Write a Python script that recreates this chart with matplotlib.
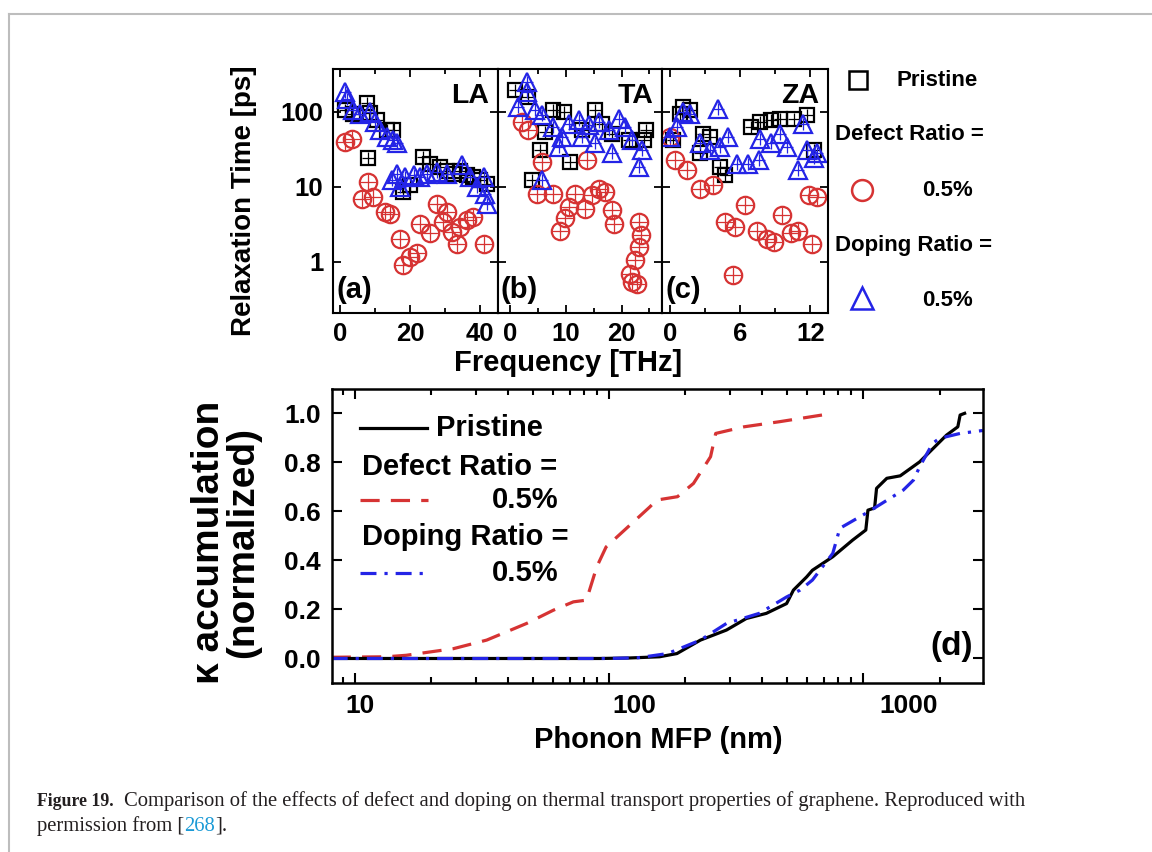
import matplotlib
matplotlib.use("Agg")
import matplotlib.pyplot as plt
from matplotlib.lines import Line2D
from matplotlib.transforms import ScaledTranslation
from matplotlib.ticker import FixedLocator, MultipleLocator, NullFormatter, LogLocator

plt.rcParams['font.family'] = ['Liberation Sans', 'DejaVu Sans']
plt.rcParams['font.weight'] = 'bold'

# --- panel (a) LA : frequency [THz], relaxation time [ps]
la_f_pr = [1.4, 3.8, 7.6, 8.6, 10.5, 13.3, 15.2, 8.1, 23.8, 25.7, 28.6, 30.5, 32.4, 34.3, 36.2, 38.0, 40.0, 41.9, 18.1, 20.0]
la_t_pr = [105, 95, 130, 98, 77, 57, 57, 24, 25, 20, 18.5, 16.5, 15, 16.5, 14.5, 13.5, 12.3, 11, 8.5, 10.5]
la_f_df = [1.4, 3.3, 8.1, 6.2, 9.5, 12.9, 14.3, 17.1, 18.1, 20.0, 21.9, 22.9, 25.7, 27.6, 29.5, 31.9, 33.3, 36.2, 38.0, 41.0, 34.3, 30.5]
la_t_df = [40, 44, 11.7, 6.9, 7.4, 4.6, 4.4, 2.0, 0.9, 1.17, 1.3, 3.2, 2.4, 6.0, 3.4, 2.5, 1.75, 3.6, 4.0, 1.75, 2.9, 4.6]
la_f_dp = [1.4, 1.9, 3.8, 5.7, 8.6, 10.0, 11.4, 13.3, 15.2, 16.2, 14.8, 16.2, 18.6, 21.0, 22.9, 24.8, 27.6, 30.5, 34.8, 37.1, 41.0, 39.0, 41.4, 41.9, 17.1]
la_t_dp = [185, 150, 105, 95, 100, 73, 57, 46, 42, 38, 12.3, 15, 13.6, 14.5, 13.6, 15, 16, 15, 19.5, 13.6, 13.5, 10, 8, 6, 10]

# --- panel (b) TA
ta_f_pr = [0.9, 3.3, 7.8, 9.6, 15.3, 6.3, 5.4, 10.8, 3.9, 16.5, 18.3, 21.3, 24.3, 24.0, 12.9]
ta_t_pr = [195, 158, 105, 100, 105, 54, 31, 21.5, 12.3, 70, 51, 42, 57, 42, 57]
ta_f_df = [2.1, 3.3, 5.7, 4.8, 7.8, 11.7, 10.5, 14.7, 17.1, 13.8, 9.9, 9.0, 13.5, 18.3, 18.6, 23.1, 23.4, 23.1, 22.5, 21.6, 21.9, 22.7, 15.9]
ta_t_df = [74, 57, 21.5, 8.1, 8.1, 8.1, 5.4, 7.7, 8.6, 23, 3.8, 2.6, 5.1, 4.9, 3.2, 3.4, 2.3, 1.6, 1.05, 0.69, 0.54, 0.51, 9.5]
ta_f_dp = [3.0, 3.0, 1.5, 4.5, 5.7, 7.8, 9.3, 10.5, 12.3, 14.1, 15.9, 17.7, 19.5, 20.7, 21.9, 23.1, 23.7, 18.3, 8.7, 5.7, 12.9, 15.3]
ta_t_dp = [250, 185, 116, 105, 90, 63, 46, 70, 77, 66, 73, 57, 81, 63, 42, 18.5, 31, 28, 34, 12.3, 46, 38]

# --- panel (c) ZA
za_f_pr = [1.14, 0.86, 1.7, 2.86, 3.4, 4.3, 4.7, 6.9, 7.7, 8.6, 9.4, 10.6, 11.7, 12.3, 0.3, 2.6]
za_t_pr = [117, 95, 105, 51, 46, 18.5, 14.5, 63, 74, 77, 81, 81, 90, 31, 42, 28]
za_f_df = [0.0, 0.43, 1.43, 2.57, 3.7, 6.4, 4.7, 5.6, 7.4, 8.3, 8.9, 9.6, 10.9, 10.3, 12.1, 11.9, 12.6, 5.4]
za_t_df = [46, 23, 17, 9.5, 10.5, 5.7, 3.4, 2.9, 2.6, 2.0, 1.85, 4.2, 2.6, 2.4, 1.75, 7.7, 7.4, 0.66]
za_f_dp = [0.0, 0.57, 1.14, 1.7, 4.14, 2.6, 3.4, 4.3, 5.0, 5.7, 6.7, 7.6, 7.7, 8.6, 9.4, 10.0, 10.9, 11.4, 11.7, 12.6, 12.3]
za_t_dp = [46, 63, 100, 95, 110, 38, 31, 34, 46, 20, 20, 23, 44, 38, 51, 34, 17, 70, 31, 28, 24]

# --- panel (d): phonon MFP [nm] vs normalized kappa accumulation
mfp_pr = [8.1, 50, 92, 120, 158, 185, 229, 290, 347, 416, 500, 532, 600, 632, 760, 910,
          1025, 1045, 1110, 1130, 1240, 1400, 1670, 2130, 2360, 2410, 2510]
k_pr = [0.0, 0.0, 0.0, 0.002, 0.007, 0.02, 0.075, 0.116, 0.163, 0.184, 0.224, 0.279, 0.333, 0.36, 0.415, 0.483,
        0.524, 0.605, 0.614, 0.694, 0.735, 0.745, 0.802, 0.911, 0.945, 0.993, 1.0]
mfp_df = [8.1, 13.3, 15.9, 24.4, 33, 47.4, 60.4, 72.4, 81.5, 89.5, 97.4, 145, 153.7, 186, 215, 251, 263, 340, 470, 760]
k_df = [0.005, 0.007, 0.013, 0.04, 0.075, 0.143, 0.197, 0.231, 0.238, 0.374, 0.455, 0.619, 0.646, 0.66, 0.714,
        0.823, 0.918, 0.945, 0.966, 1.0]
mfp_dp = [8.1, 50, 100, 130, 170, 229, 290, 390, 500, 565, 632, 760, 810, 1025, 1130, 1440, 1580, 1670, 1880,
          2000, 2410, 2960]
k_dp = [0.0, 0.0, 0.0, 0.003, 0.02, 0.075, 0.143, 0.184, 0.251, 0.279, 0.32, 0.429, 0.531, 0.592, 0.619, 0.687,
        0.728, 0.782, 0.878, 0.898, 0.918, 0.93]
mfp_ticks = [10, 100, 1000]
mfp_ticklabels = ['10', '100', '1000']

RED = '#d63333'
BLUE = '#2424e6'
W, H = 1152, 852


def fx(px):
    return px / W


def fy(py):
    return 1 - py / H


fig = plt.figure(figsize=(11.52, 8.52), dpi=100)

# page frame lines
fig.add_artist(Line2D([fx(9), 1], [fy(14), fy(14)], transform=fig.transFigure, color='#bdbdbd', lw=1.5))
fig.add_artist(Line2D([fx(9), fx(9)], [fy(14), 0], transform=fig.transFigure, color='#bdbdbd', lw=1.5))

# ---------- top panels ----------
top_bot, top_h = fy(312.7), (312.7 - 69.3) / H
panels = [
    (333.0, 497.7, (-2, 45), 10, [0, 20, 40], la_f_pr, la_t_pr, la_f_df, la_t_df, la_f_dp, la_t_dp, 'LA', '(a)'),
    (497.7, 661.7, (-2.2, 27.2), 5, [0, 10, 20], ta_f_pr, ta_t_pr, ta_f_df, ta_t_df, ta_f_dp, ta_t_dp, 'TA', '(b)'),
    (661.7, 828.0, (-0.7, 13.5), 3, [0, 6, 12], za_f_pr, za_t_pr, za_f_df, za_t_df, za_f_dp, za_t_dp, 'ZA', '(c)'),
]
for i, (l, r, xl, mnr, labs, fp, tp, fd, td, fdp, tdp, mode, tag) in enumerate(panels):
    ax = fig.add_axes([fx(l), top_bot, (r - l) / W, top_h])
    ax.set_yscale('log')
    # open markers with a thin cross inside, like the scanned originals
    ax.plot(fp, tp, ls='none', marker='s', ms=10, mfc='none', mec='black', mew=1.6)
    ax.plot(fp, tp, ls='none', marker='+', ms=8, mec='black', mew=0.9)
    ax.plot(fd, td, ls='none', marker='o', ms=12.5, mfc='none', mec=RED, mew=1.6)
    ax.plot(fd, td, ls='none', marker='+', ms=11, mec=RED, mew=0.9)
    ax.plot(fdp, tdp, ls='none', marker='^', ms=12.5, mfc='none', mec=BLUE, mew=1.6)
    ax.plot(fdp, tdp, ls='none', marker='+', ms=8, mec=BLUE, mew=0.9)
    ax.set_xlim(*xl)
    ax.set_ylim(0.21, 370)
    ax.xaxis.set_major_locator(FixedLocator(labs))
    ax.xaxis.set_minor_locator(MultipleLocator(mnr))
    ax.yaxis.set_major_locator(FixedLocator([1, 10, 100]))
    ax.yaxis.set_minor_locator(FixedLocator([]))
    ax.tick_params(which='both', direction='in', top=True, right=True, width=1.3)
    ax.tick_params(which='major', length=6, labelsize=18.5, pad=7)
    ax.tick_params(which='minor', length=3.5)
    ax.set_yticklabels(['1', '10', '100'])
    if i > 0:
        ax.tick_params(labelleft=False)
    for s in ax.spines.values():
        s.set_linewidth(1.5)
    ax.text(0.95, 0.89, mode, transform=ax.transAxes, ha='right', va='center', fontsize=20.5, fontweight='bold')
    ax.text(0.02, 0.095, tag, transform=ax.transAxes, ha='left', va='center', fontsize=21, fontweight='bold')
    if i == 0:
        ax.set_ylabel('Relaxation Time [ps]', fontsize=20, fontweight='bold')
        ax.yaxis.set_label_coords(-0.461, 0.459)

fig.text(fx(568), fy(363), 'Frequency [THz]', ha='center', va='center', fontsize=21, fontweight='bold')

# top legend (outside, right of panel c)
fig.add_artist(Line2D([fx(858)], [fy(80)], transform=fig.transFigure, marker='s', ms=13, mfc='none', mec='black', mew=1.8))
fig.text(fx(897), fy(80), 'Pristine', ha='left', va='center', fontsize=16, fontweight='bold')
fig.text(fx(835), fy(135), 'Defect Ratio =', ha='left', va='center', fontsize=16, fontweight='bold')
fig.add_artist(Line2D([fx(862)], [fy(190)], transform=fig.transFigure, marker='o', ms=15, mfc='none', mec=RED, mew=1.8))
fig.text(fx(922), fy(190), '0.5%', ha='left', va='center', fontsize=16, fontweight='bold')
fig.text(fx(835), fy(245), 'Doping Ratio =', ha='left', va='center', fontsize=16, fontweight='bold')
fig.add_artist(Line2D([fx(862)], [fy(298)], transform=fig.transFigure, marker='^', ms=16, mfc='none', mec=BLUE, mew=1.8))
fig.text(fx(922), fy(300), '0.5%', ha='left', va='center', fontsize=16, fontweight='bold')

# ---------- bottom panel (d) ----------
axd = fig.add_axes([fx(331.7), fy(683), (983 - 331.7) / W, (683 - 389.3) / H])
axd.set_xscale('log')
axd.plot(mfp_df, k_df, color=RED, lw=2.3, ls=(0, (6, 3.5)))
axd.plot(mfp_pr, k_pr, color='black', lw=2.3)
axd.plot(mfp_dp, k_dp, color=BLUE, lw=2.3, ls=(0, (5, 2.5, 1, 2.5)))
axd.set_xlim(8.1, 2965)
axd.set_ylim(-0.1, 1.098)
axd.xaxis.set_minor_locator(LogLocator(base=10, subs=range(2, 10), numticks=10))
axd.xaxis.set_minor_formatter(NullFormatter())
axd.set_xticks(mfp_ticks)
axd.set_xticklabels(mfp_ticklabels)
axd.set_yticks([0.0, 0.2, 0.4, 0.6, 0.8, 1.0])
axd.set_yticklabels(['0.0', '0.2', '0.4', '0.6', '0.8', '1.0'])
axd.tick_params(which='both', direction='in', top=True, right=True, width=1.5)
axd.tick_params(which='major', length=7, labelsize=19, pad=8)
axd.tick_params(which='minor', length=4)
# in the original the tick labels sit a little right of their ticks
for lab, dx in zip(axd.get_xticklabels(), [5, 25, 46]):
    lab.set_transform(lab.get_transform() + ScaledTranslation(dx / 100, 0, fig.dpi_scale_trans))
for s in axd.spines.values():
    s.set_linewidth(1.8)
axd.text(0.985, 0.125, '(d)', transform=axd.transAxes, ha='right', va='center', fontsize=24, fontweight='bold')
axd.set_xlabel('Phonon MFP (nm)', fontsize=21, fontweight='bold')
axd.xaxis.set_label_coords(0.502, -0.147)

# legend of panel (d), drawn in axes fraction
axd.add_line(Line2D([0.0435, 0.146], [0.868, 0.868], transform=axd.transAxes, color='black', lw=2.3))
axd.text(0.160, 0.868, 'Pristine', transform=axd.transAxes, ha='left', va='center', fontsize=21, fontweight='bold')
axd.text(0.0465, 0.735, 'Defect Ratio =', transform=axd.transAxes, ha='left', va='center', fontsize=21, fontweight='bold')
axd.add_line(Line2D([0.0435, 0.148], [0.623, 0.623], transform=axd.transAxes, color=RED, lw=2.3, ls=(0, (6, 3.5))))
axd.text(0.246, 0.623, '0.5%', transform=axd.transAxes, ha='left', va='center', fontsize=21, fontweight='bold')
axd.text(0.0465, 0.497, 'Doping Ratio =', transform=axd.transAxes, ha='left', va='center', fontsize=21, fontweight='bold')
axd.add_line(Line2D([0.0435, 0.143], [0.375, 0.375], transform=axd.transAxes, color=BLUE, lw=2.3, ls=(0, (5, 2.5, 1, 2.5))))
axd.text(0.246, 0.375, '0.5%', transform=axd.transAxes, ha='left', va='center', fontsize=21, fontweight='bold')

fig.text(fx(226), fy(542), 'κ accumulation\n(normalized)', rotation=90, ha='center', va='center',
         multialignment='center', linespacing=0.92, fontsize=28, fontweight='bold')

# ---------- caption ----------
cap_font = ['Liberation Serif', 'DejaVu Serif']
fig.canvas.draw()
renderer = fig.canvas.get_renderer()


def put(x_px, y_px, s, size=14.85, **kw):
    t = fig.text(fx(x_px), fy(y_px), s, ha='left', va='baseline', fontsize=size, family=cap_font, **kw)
    bb = t.get_window_extent(renderer=renderer)
    return x_px + bb.width


x = put(37, 806, 'Figure 19.', size=12.8, fontweight='bold', color='#231f20')
put(x + 10, 806, 'Comparison of the effects of defect and doping on thermal transport properties of graphene. Reproduced with',
    fontweight='normal', color='#231f20')
x = put(37, 831, 'permission from [', fontweight='normal', color='#231f20')
x = put(x, 831, '268', fontweight='normal', color='#1b9ad6')
put(x, 831, '].', fontweight='normal', color='#231f20')

fig.savefig('out.png', dpi=100)
